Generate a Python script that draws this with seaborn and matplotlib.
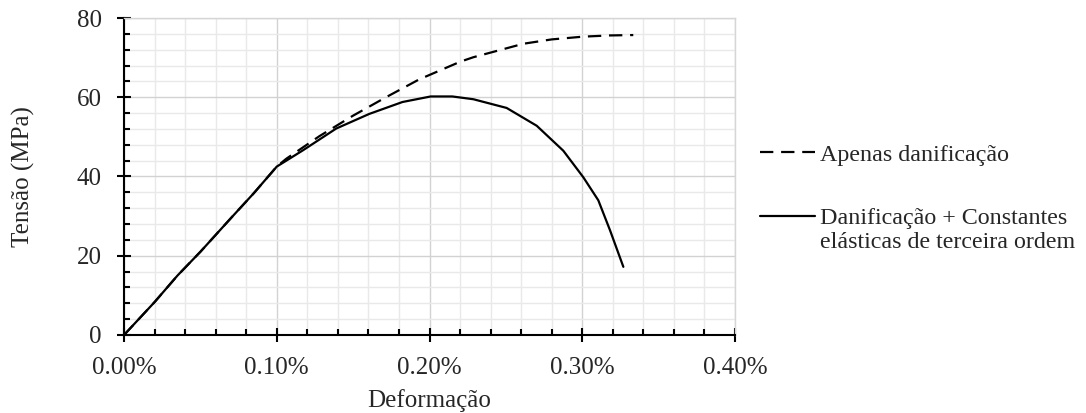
import numpy as np
import pandas as pd
import seaborn as sns
import matplotlib.pyplot as plt
from matplotlib.ticker import MultipleLocator, FuncFormatter

# strain in %, stress in MPa
linear_x = [0.0, 0.02, 0.035, 0.05, 0.07, 0.085, 0.10]
linear_y = [0.0, 8.3, 15.0, 21.0, 29.5, 35.8, 42.5]

dano_x = [0.1063, 0.128, 0.1497, 0.1715, 0.1932, 0.2203, 0.2287, 0.2614, 0.2800, 0.3007, 0.3180, 0.3334]
dano_y = [44.5, 50.2, 55.3, 60.0, 64.5, 69.0, 70.1, 73.5, 74.6, 75.3, 75.6, 75.7]

tcec_x = [0.1171, 0.1389, 0.1606, 0.1823, 0.2008, 0.2149, 0.2287, 0.2505, 0.2702, 0.2876, 0.3007, 0.3105, 0.3182, 0.3269]
tcec_y = [46.6, 52.1, 55.8, 58.8, 60.2, 60.2, 59.5, 57.3, 52.8, 46.5, 39.8, 34.0, 26.4, 17.2]

lab_dano = "Apenas danificação"
lab_tcec = "Danificação + Constantes\nelásticas de terceira ordem"

df = pd.concat([
    pd.DataFrame({"x": linear_x + dano_x, "y": linear_y + dano_y, "serie": lab_dano}),
    pd.DataFrame({"x": linear_x + tcec_x, "y": linear_y + tcec_y, "serie": lab_tcec}),
], ignore_index=True)

sns.set_style("white")
plt.rcParams['font.family'] = ['Liberation Serif', 'DejaVu Serif']
fs = 18
lfs = 17.3

fig = plt.figure(figsize=(10.86, 4.13), dpi=100)
ax = fig.add_axes([0.1142, 0.1889, 0.5626, 0.7675])

sns.lineplot(data=df, x="x", y="y", hue="serie", style="serie",
             palette={lab_dano: "black", lab_tcec: "black"},
             dashes={lab_dano: (6, 3.5), lab_tcec: ""},
             estimator=None, sort=False, linewidth=1.6, ax=ax)

ax.set_xlim(0, 0.4)
ax.set_ylim(0, 80)
ax.xaxis.set_major_locator(MultipleLocator(0.1))
ax.xaxis.set_minor_locator(MultipleLocator(0.02))
ax.yaxis.set_major_locator(MultipleLocator(20))
ax.yaxis.set_minor_locator(MultipleLocator(4))
ax.xaxis.set_major_formatter(FuncFormatter(lambda v, p: f"{v:.2f}%"))

ax.grid(which="major", color="#d2d2d2", linewidth=1.0)
ax.grid(which="minor", color="#e9e9e9", linewidth=1.0)
ax.set_axisbelow(True)

for s in ["top", "right"]:
    ax.spines[s].set_color("#d6d6d6")
    ax.spines[s].set_linewidth(1.0)
for s in ["left", "bottom"]:
    ax.spines[s].set_color("black")
    ax.spines[s].set_linewidth(1.5)

ax.tick_params(which="major", direction="inout", length=10, width=1.5, labelsize=fs, color="black")
ax.tick_params(axis="x", which="major", pad=11)
ax.tick_params(axis="y", which="major", pad=11)
ax.tick_params(which="minor", direction="in", length=4, width=1.5, color="black")
ax.tick_params(axis="x", which="both", bottom=True)
ax.tick_params(axis="y", which="both", left=True)

ax.set_xlabel("Deformação", fontsize=fs, labelpad=7)
ax.set_ylabel("Tensão (MPa)", fontsize=fs, labelpad=30)

leg = ax.legend(title=None, loc="upper left", bbox_to_anchor=(0.7, 0.652),
                bbox_transform=fig.transFigure, frameon=False, fontsize=lfs,
                handlelength=2.3, handletextpad=0.2, labelspacing=1.75,
                borderaxespad=0, borderpad=0)
leg.get_texts()[1].set_linespacing(1.22)
# put the solid handle next to the first line of the two-line label
h = leg.get_lines()[1]
h.set_ydata(np.asarray(h.get_ydata()) + 0.6 * lfs)

fig.savefig("out.png", dpi=100)
